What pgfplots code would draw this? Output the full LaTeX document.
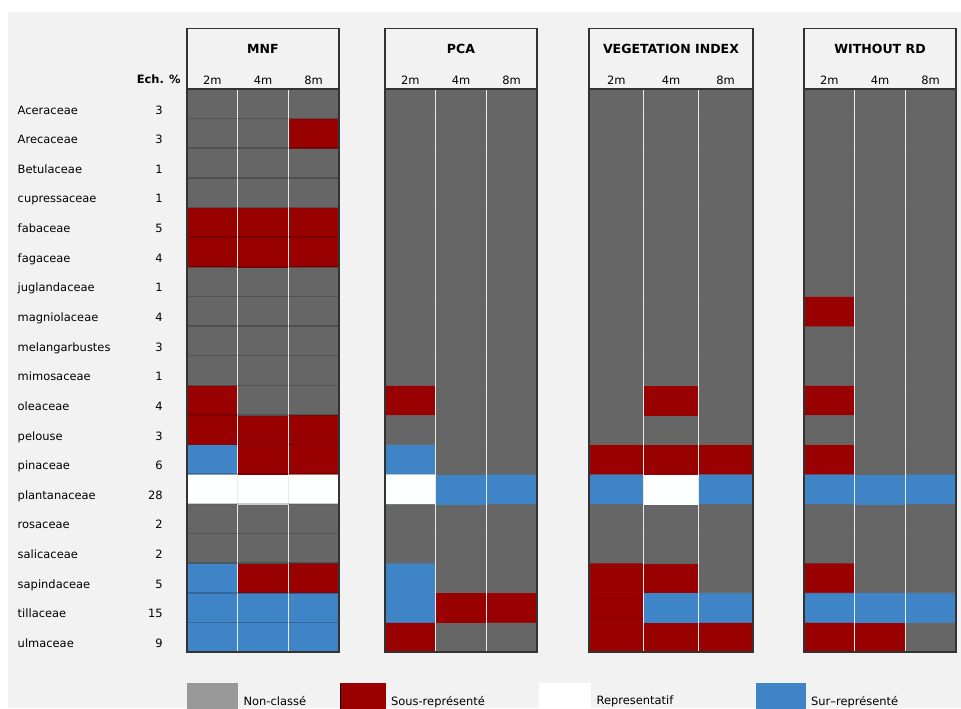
\documentclass[border=0pt]{standalone}
\usepackage{fontspec}
\setmainfont{DejaVu Sans}
\usepackage{pgfplots}
\pgfplotsset{compat=1.18}
\definecolor{bg}{HTML}{F2F2F2}
\definecolor{lgray}{HTML}{999999}
\definecolor{cred}{HTML}{990000}
\definecolor{cblue}{HTML}{3E84C6}
\definecolor{frame}{HTML}{333333}
\newcommand{\rowlab}[2]{\makebox[108.75pt]{#1\hfill #2}}
\newcommand{\fnt}{\fontsize{8.6pt}{10pt}\selectfont}
\pgfplotsset{
  panel/.style={
    scale only axis, height=422.25pt, anchor=south west,
    xmin=0.5, xmax=3.5, ymin=0.5, ymax=19.5,
    xtick={1,2,3}, xticklabels={2m,4m,8m}, xticklabel pos=upper,
    xticklabel style={anchor=base, inner sep=0pt, yshift=3.5pt, font=\fnt},
    ytick=\empty,
    minor xtick={1.5,2.5}, minor ytick={1.5,2.5,...,18.5},
    xminorgrids, yminorgrids,
    minor x grid style={draw=white!92!black, line width=1.2pt},
    minor y grid style={draw=black, draw opacity=0.2, line width=1.2pt},
    tick style={draw=none},
    axis on top, clip=false,
    axis line style={draw=frame, line width=1.1pt},
    colormap={cat}{rgb255=(102,102,102) rgb255=(153,0,0) rgb255=(255,255,255) rgb255=(62,132,198)},
    point meta min=0, point meta max=3,
  },
  cells/.style={matrix plot*, mesh/cols=3, point meta=explicit},
}
\newcommand{\header}[1]{%
  \draw[frame, line width=0.8pt] (axis description cs:0,1) |- (axis description cs:1,1.1075) -- (axis description cs:1,1);
  \node[font=\bfseries\fontsize{9.4pt}{11pt}\selectfont, anchor=base, inner sep=0pt] at (axis description cs:0.5,1.0634) {#1};
}
\begin{document}
\begin{tikzpicture}[font=\fnt]
\fill[white] (0,0) rectangle (720.75pt,531pt);
\fill[bg] (6pt,0) rectangle (720.75pt,522pt);

% MNF
\begin{axis}[panel, at={(140.25pt,42pt)}, width=114pt,
  ytick={1,...,19},
  yticklabels={{\rowlab{ulmaceae}{9}},{\rowlab{tillaceae}{15}},{\rowlab{sapindaceae}{5}},{\rowlab{salicaceae}{2}},{\rowlab{rosaceae}{2}},{\rowlab{plantanaceae}{28}},{\rowlab{pinaceae}{6}},{\rowlab{pelouse}{3}},{\rowlab{oleaceae}{4}},{\rowlab{mimosaceae}{1}},{\rowlab{melangarbustes}{3}},{\rowlab{magniolaceae}{4}},{\rowlab{juglandaceae}{1}},{\rowlab{fagaceae}{4}},{\rowlab{fabaceae}{5}},{\rowlab{cupressaceae}{1}},{\rowlab{Betulaceae}{1}},{\rowlab{Arecaceae}{3}},{\rowlab{Aceraceae}{3}}},
  yticklabel style={anchor=base east, inner sep=0pt, xshift=-18pt, yshift=-7.7pt, font=\fnt},
  legend columns=4,
  legend style={at={(axis description cs:0,-0.0551)}, anchor=north west, draw=none, fill=none, inner sep=0pt, outer sep=0pt, font=\fnt,
    /tikz/every odd column/.append style={column sep=4.5pt},
    nodes={inner sep=0pt}},
]
\addlegendimage{legend image code/.code={\fill[lgray] (0pt,-9.375pt) rectangle (37.5pt,9.375pt);}}
\addlegendentry{\makebox[72pt][l]{Non-classé}}
\addlegendimage{legend image code/.code={\fill[cred] (0pt,-9.375pt) rectangle (33.75pt,9.375pt); \draw[black, line width=0.8pt] (0.4pt,-9.375pt) -- (0.4pt,9.375pt);}}
\addlegendentry{\makebox[111pt][l]{Sous-représenté}}
\addlegendimage{legend image code/.code={\fill[white] (0pt,-9.375pt) rectangle (38.25pt,9.375pt);}}
\addlegendentry{\makebox[119.25pt][l]{Representatif}}
\addlegendimage{legend image code/.code={\fill[cblue] (0pt,-9.375pt) rectangle (36.75pt,9.375pt);}}
\addlegendentry{Sur–représenté}
\addplot[cells] table[meta=c, row sep=\\] {
x y c\\
1 1 3\\ 2 1 3\\ 3 1 3\\
1 2 3\\ 2 2 3\\ 3 2 3\\
1 3 3\\ 2 3 1\\ 3 3 1\\
1 4 0\\ 2 4 0\\ 3 4 0\\
1 5 0\\ 2 5 0\\ 3 5 0\\
1 6 2\\ 2 6 2\\ 3 6 2\\
1 7 3\\ 2 7 1\\ 3 7 1\\
1 8 1\\ 2 8 1\\ 3 8 1\\
1 9 1\\ 2 9 0\\ 3 9 0\\
1 10 0\\ 2 10 0\\ 3 10 0\\
1 11 0\\ 2 11 0\\ 3 11 0\\
1 12 0\\ 2 12 0\\ 3 12 0\\
1 13 0\\ 2 13 0\\ 3 13 0\\
1 14 1\\ 2 14 1\\ 3 14 1\\
1 15 1\\ 2 15 1\\ 3 15 1\\
1 16 0\\ 2 16 0\\ 3 16 0\\
1 17 0\\ 2 17 0\\ 3 17 0\\
1 18 0\\ 2 18 0\\ 3 18 1\\
1 19 0\\ 2 19 0\\ 3 19 0\\
};
\header{MNF}
\node[anchor=base east, inner sep=0pt, font=\bfseries\fnt] at (axis description cs:-0.0395,1.0101) {Ech. \%};
\end{axis}

% PCA
\begin{axis}[panel, at={(288.75pt,42pt)}, width=114pt]
\addplot[cells] table[meta=c, row sep=\\] {
x y c\\
1 1 1\\ 2 1 0\\ 3 1 0\\
1 2 3\\ 2 2 1\\ 3 2 1\\
1 3 3\\ 2 3 0\\ 3 3 0\\
1 4 0\\ 2 4 0\\ 3 4 0\\
1 5 0\\ 2 5 0\\ 3 5 0\\
1 6 2\\ 2 6 3\\ 3 6 3\\
1 7 3\\ 2 7 0\\ 3 7 0\\
1 8 0\\ 2 8 0\\ 3 8 0\\
1 9 1\\ 2 9 0\\ 3 9 0\\
1 10 0\\ 2 10 0\\ 3 10 0\\
1 11 0\\ 2 11 0\\ 3 11 0\\
1 12 0\\ 2 12 0\\ 3 12 0\\
1 13 0\\ 2 13 0\\ 3 13 0\\
1 14 0\\ 2 14 0\\ 3 14 0\\
1 15 0\\ 2 15 0\\ 3 15 0\\
1 16 0\\ 2 16 0\\ 3 16 0\\
1 17 0\\ 2 17 0\\ 3 17 0\\
1 18 0\\ 2 18 0\\ 3 18 0\\
1 19 0\\ 2 19 0\\ 3 19 0\\
};
\header{PCA}
\end{axis}

% VEGETATION INDEX
\begin{axis}[panel, at={(441.75pt,42pt)}, width=123pt]
\addplot[cells] table[meta=c, row sep=\\] {
x y c\\
1 1 1\\ 2 1 1\\ 3 1 1\\
1 2 1\\ 2 2 3\\ 3 2 3\\
1 3 1\\ 2 3 1\\ 3 3 0\\
1 4 0\\ 2 4 0\\ 3 4 0\\
1 5 0\\ 2 5 0\\ 3 5 0\\
1 6 3\\ 2 6 2\\ 3 6 3\\
1 7 1\\ 2 7 1\\ 3 7 1\\
1 8 0\\ 2 8 0\\ 3 8 0\\
1 9 0\\ 2 9 1\\ 3 9 0\\
1 10 0\\ 2 10 0\\ 3 10 0\\
1 11 0\\ 2 11 0\\ 3 11 0\\
1 12 0\\ 2 12 0\\ 3 12 0\\
1 13 0\\ 2 13 0\\ 3 13 0\\
1 14 0\\ 2 14 0\\ 3 14 0\\
1 15 0\\ 2 15 0\\ 3 15 0\\
1 16 0\\ 2 16 0\\ 3 16 0\\
1 17 0\\ 2 17 0\\ 3 17 0\\
1 18 0\\ 2 18 0\\ 3 18 0\\
1 19 0\\ 2 19 0\\ 3 19 0\\
};
\header{VEGETATION INDEX}
\end{axis}

% WITHOUT RD
\begin{axis}[panel, at={(603pt,42pt)}, width=114pt]
\addplot[cells] table[meta=c, row sep=\\] {
x y c\\
1 1 1\\ 2 1 1\\ 3 1 0\\
1 2 3\\ 2 2 3\\ 3 2 3\\
1 3 1\\ 2 3 0\\ 3 3 0\\
1 4 0\\ 2 4 0\\ 3 4 0\\
1 5 0\\ 2 5 0\\ 3 5 0\\
1 6 3\\ 2 6 3\\ 3 6 3\\
1 7 1\\ 2 7 0\\ 3 7 0\\
1 8 0\\ 2 8 0\\ 3 8 0\\
1 9 1\\ 2 9 0\\ 3 9 0\\
1 10 0\\ 2 10 0\\ 3 10 0\\
1 11 0\\ 2 11 0\\ 3 11 0\\
1 12 1\\ 2 12 0\\ 3 12 0\\
1 13 0\\ 2 13 0\\ 3 13 0\\
1 14 0\\ 2 14 0\\ 3 14 0\\
1 15 0\\ 2 15 0\\ 3 15 0\\
1 16 0\\ 2 16 0\\ 3 16 0\\
1 17 0\\ 2 17 0\\ 3 17 0\\
1 18 0\\ 2 18 0\\ 3 18 0\\
1 19 0\\ 2 19 0\\ 3 19 0\\
};
\header{WITHOUT RD}
\end{axis}
\pgfresetboundingbox
\useasboundingbox (0,0) rectangle (720.75pt,531pt);
\end{tikzpicture}
\end{document}
